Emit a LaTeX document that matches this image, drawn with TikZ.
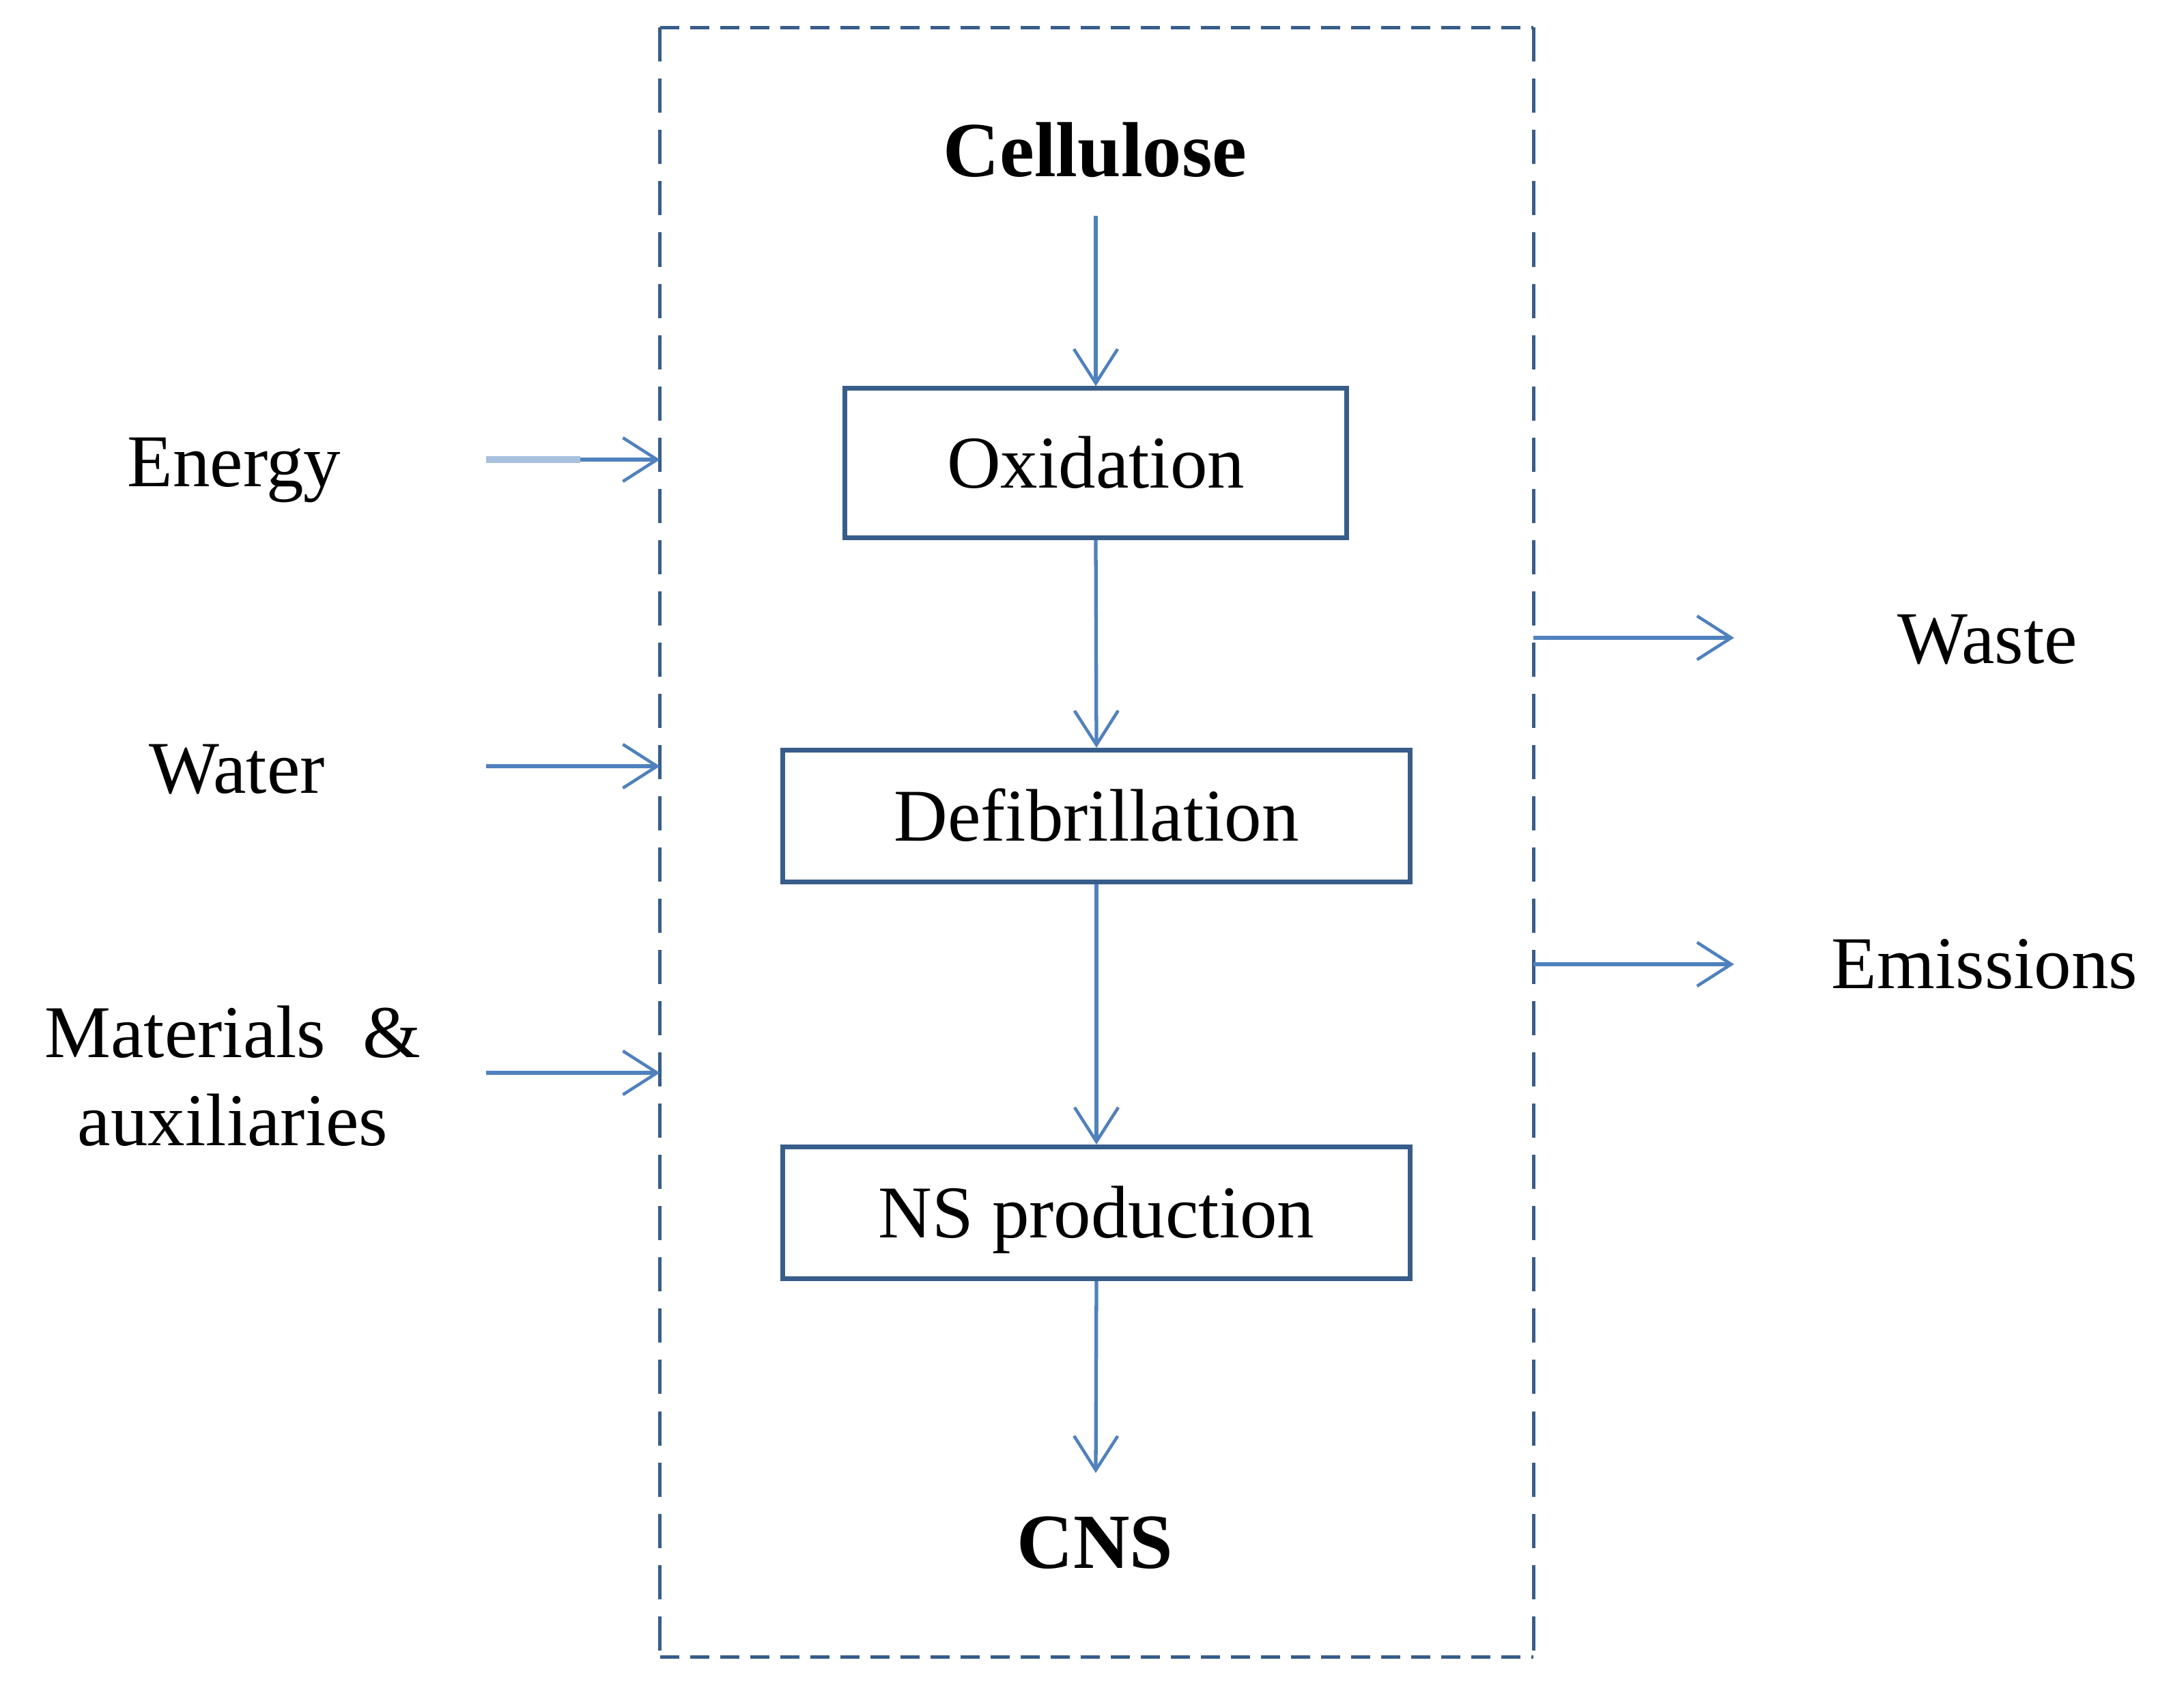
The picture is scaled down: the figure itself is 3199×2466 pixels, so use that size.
\documentclass[tikz,border=0pt]{standalone}
\usepackage{fontspec}
\setmainfont{Liberation Serif}
\usetikzlibrary{arrows.meta}
\definecolor{arrblue}{HTML}{4F81BD}
\definecolor{boxblue}{HTML}{385D8A}
\definecolor{lightblue}{HTML}{A7C0DE}
\begin{document}
\begin{tikzpicture}[x=0.01cm,y=-0.01cm,
  lbl/.style={font=\fontsize{31}{37}\selectfont, text height=20.5pt, text depth=0pt, inner sep=0pt},
  blbl/.style={font=\fontsize{32.5}{38}\selectfont\bfseries, text height=21.5pt, text depth=0pt, inner sep=0pt},
  procbox/.style={draw=boxblue, line width=2pt, font=\fontsize{31}{37}\selectfont, text height=20.5pt, text depth=0pt, inner sep=0pt},
  arr/.style={draw=arrblue, line width=1.5pt, -{Straight Barb[length=0.5cm, width=0.64cm, line width=1.3pt]}},
  dashbox/.style={draw=boxblue, line width=1.4pt, line cap=butt},
  lightline/.style={draw=lightblue, line width=3pt}
]
\useasboundingbox (0,0) rectangle (3199,2466);

% system boundary (invisible node used for anchors)
\node[draw=none, minimum width=12.79cm, minimum height=23.85cm, inner sep=0pt, outer sep=0pt] (sys) at (1606.5,1233.5) {};
\draw[dashbox, dash pattern=on 0.28cm off 0.16cm] (sys.north west) -- (sys.north east);
\draw[dashbox, dash pattern=on 0.28cm off 0.16cm] (sys.south west) -- (sys.south east);
\draw[dashbox, dash pattern=on 0.5cm off 0.25cm] (sys.north west) -- (sys.south west);
\draw[dashbox, dash pattern=on 0.5cm off 0.25cm] (sys.north east) -- (sys.south east);

% central chain
\node[blbl] (cell) at (1604,221) {Cellulose};
\node[procbox, minimum width=7.35cm, minimum height=2.18cm] (ox) at (1605,678) {Oxidation};
\node[procbox, minimum width=9.18cm, minimum height=1.93cm] (defib) at (1606,1195) {Defibrillation};
\node[procbox, minimum width=9.18cm, minimum height=1.93cm] (ns) at (1606,1776) {NS production};
\node[blbl] (cns) at (1604,2259) {CNS};

\coordinate (c0) at (1605,316);
\coordinate (c1) at (1605,2157);
\draw[arr] (c0) -- (ox.north);
\draw[arr] (ox.south) -- (defib.north);
\draw[arr] (defib.south) -- (ns.north);
\draw[arr] (ns.south) -- (c1);

% inputs
\node[lbl] (energy) at (343,676) {Energy};
\node[lbl] (water) at (347,1125) {Water};
\node[lbl] (mat1) at (341,1512) {Materials\ \ \&};
\node[lbl] (mat2) at (341,1641) {auxiliaries};

\coordinate (e0) at (712,673);
\coordinate (e1) at (850,673);
\coordinate (w0) at (712,1122);
\coordinate (m0) at (712,1571);
\draw[lightline] (e0) -- (e1);
\draw[arr] (e1) -- (e1 -| sys.west);
\draw[arr] (w0) -- (w0 -| sys.west);
\draw[arr] (m0) -- (m0 -| sys.west);

% outputs
\node[lbl] (waste) at (2911,935) {Waste};
\node[lbl] (emis) at (2907,1411) {Emissions};
\coordinate (o1) at (2540,934);
\coordinate (o2) at (2540,1412);
\draw[arr] (o1 -| sys.east) -- (o1);
\draw[arr] (o2 -| sys.east) -- (o2);
\end{tikzpicture}
\end{document}
